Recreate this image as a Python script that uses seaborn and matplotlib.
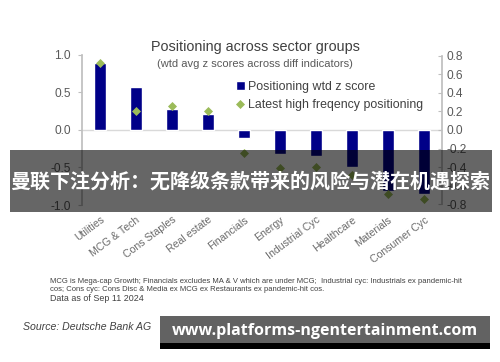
import matplotlib
matplotlib.use("Agg")
import matplotlib.pyplot as plt
import matplotlib.patches as mpatches
import seaborn as sns
import pandas as pd

categories = ["Utilities", "MCG & Tech", "Cons Staples", "Real estate", "Financials",
              "Energy", "Industrial Cyc", "Healthcare", "Materials", "Consumer Cyc"]
positioning_z = [0.89, 0.57, 0.28, 0.21, -0.11, -0.32, -0.35, -0.49, -0.82, -0.85]
high_freq = [0.72, 0.21, 0.26, 0.21, -0.25, -0.41, -0.40, -0.49, -0.69, -0.75]
left_ticks = [-1.0, -0.5, 0.0, 0.5, 1.0]
right_ticks = [-0.8, -0.6, -0.4, -0.2, 0.0, 0.2, 0.4, 0.6, 0.8]

df = pd.DataFrame({"sector": categories, "z": positioning_z, "hf": high_freq})

sns.set_theme(style="white")
plt.rcParams["font.family"] = ["Liberation Sans", "DejaVu Sans"]

fig = plt.figure(figsize=(5, 3.62), dpi=100)
ax = fig.add_axes([0.164, 0.4337, 0.72, 0.4144])
ax2 = ax.twinx()

sns.barplot(data=df, x="sector", y="z", color="#000088", width=0.32,
            saturation=1, ax=ax, label="Positioning wtd z score", zorder=2)
sns.stripplot(data=df, x="sector", y="hf", color="#9BBB59", marker="D", size=4.6,
              jitter=False, ax=ax2, label="Latest high freqency positioning",
              linewidth=0, zorder=3)

grey = "#bfbfbf"
tick_col = "#595959"
ax.set_ylim(-1.0, 1.0)
ax.set_yticks(left_ticks)
ax.set_yticklabels([f"{t:.1f}" for t in left_ticks])
ax2.set_ylim(-0.81, 0.81)
ax2.set_yticks(right_ticks)
ax2.set_yticklabels([f"{t:.1f}" for t in right_ticks])
ax.set_xlim(-0.5, 9.5)
ax.axhline(0, color="#d9d9d9", lw=1, zorder=1)

for a in (ax, ax2):
    a.set_xlabel("")
    a.set_ylabel("")
    for s in ("top", "bottom"):
        a.spines[s].set_visible(False)
    a.spines["left"].set_color(grey)
    a.spines["right"].set_color(grey)
    a.grid(False)
ax.spines["right"].set_visible(False)
ax2.spines["left"].set_visible(False)
ax2.spines["right"].set_bounds(-0.8, 0.8)

ax.tick_params(axis="y", direction="out", length=3, width=0.8, color=grey,
               labelsize=8.6, labelcolor=tick_col, pad=5, left=True)
ax2.tick_params(axis="y", direction="in", length=3, width=0.8, color=grey,
                labelsize=8.6, labelcolor=tick_col, pad=3, right=True)
ax.tick_params(axis="x", length=0, labelsize=7.6, labelcolor="#6a6a6a", pad=7)
plt.setp(ax.get_xticklabels(), rotation=37, ha="right", rotation_mode="anchor")
ax2.tick_params(axis="x", length=0)

# legend
h1, l1 = ax.get_legend_handles_labels()
h2, l2 = ax2.get_legend_handles_labels()
if ax.get_legend():
    ax.get_legend().remove()
if ax2.get_legend():
    ax2.get_legend().remove()
fig.legend(h1[:1] + h2[:1], l1[:1] + l2[:1], loc="center left",
           bbox_to_anchor=(0.472, 0.735), frameon=False, fontsize=8.9,
           handlelength=0.7, handleheight=0.7, handletextpad=0.3,
           labelspacing=0.45, borderpad=0, borderaxespad=0,
           labelcolor="#404040")

fig.text(0.51, 0.870, "Positioning across sector groups", ha="center", va="center",
         fontsize=10.4, color="#404040")
fig.text(0.51, 0.823, "(wtd avg z scores across diff indicators)", ha="center",
         va="center", fontsize=8, color="#595959")

fig.text(0.1, 0.222, "MCG is Mega-cap Growth; Financials excludes MA & V which are under MCG;  "
         "Industrial cyc: Industrials ex pandemic-hit", ha="left", va="center",
         fontsize=5.5, color="#404040")
fig.text(0.1, 0.201, "cos; Cons cyc: Cons Disc & Media ex MCG ex Restaurants ex pandemic-hit cos.",
         ha="left", va="center", fontsize=5.5, color="#404040")
fig.text(0.1, 0.175, "Data as of Sep 11 2024", ha="left", va="center",
         fontsize=6.4, color="#404040")
fig.text(0.046, 0.097, "Source: Deutsche Bank AG", ha="left", va="center",
         fontsize=7.6, style="italic", color="#404040")

# overlay banners
fig.add_artist(mpatches.Rectangle((0.02, 1 - 212 / 362), 0.964, 62 / 362,
                                  transform=fig.transFigure, facecolor="black",
                                  alpha=0.6, edgecolor="none", zorder=10))
fig.text(0.5, 1 - 181 / 362, "曼联下注分析：无降级条款带来的风险与潜在机遇探索",
         ha="center", va="center", fontsize=14.4, fontweight="bold", color="white",
         family=["Noto Sans CJK SC", "DejaVu Sans"], zorder=11)

fig.add_artist(mpatches.Rectangle((0.32, 1 - 349 / 362), 0.66, 33 / 362,
                                  transform=fig.transFigure, facecolor="#626262",
                                  edgecolor="none", zorder=10))
fig.add_artist(mpatches.Rectangle((0.32, 1 - 349 / 362), 0.66, 6 / 362,
                                  transform=fig.transFigure, facecolor="black",
                                  edgecolor="none", zorder=10))
fig.text(0.65, 1 - 331 / 362, "www.platforms-ngentertainment.com", ha="center",
         va="center", fontsize=11.5, fontweight="bold", color="white",
         family=["Open Sans", "DejaVu Sans"], zorder=11)

fig.savefig("out.png", dpi=100, facecolor="white")
